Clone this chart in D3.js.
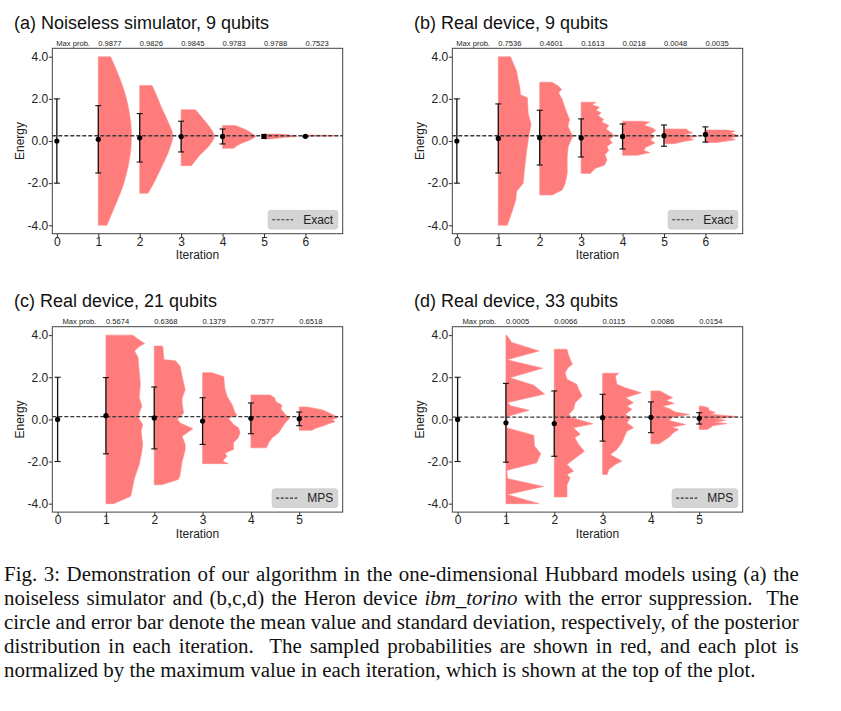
<!DOCTYPE html>
<html><head><meta charset="utf-8">
<script src="https://cdn.jsdelivr.net/npm/d3@7"></script>
<style>body{margin:0;background:#fff}svg{display:block}</style>
</head><body>
<svg id="fig" width="841" height="711"></svg>
<script>
// ---------------- data ----------------
const titleA = "(a) Noiseless simulator, 9 qubits";
const titleB = "(b) Real device, 9 qubits";
const titleC = "(c) Real device, 21 qubits";
const titleD = "(d) Real device, 33 qubits";

const iterationsA = [0,1,2,3,4,5,6];
const iterationsB = [0,1,2,3,4,5,6];
const iterationsC = [0,1,2,3,4,5];
const iterationsD = [0,1,2,3,4,5];

const maxProbA = ["0.9877","0.9826","0.9845","0.9783","0.9788","0.7523"];
const maxProbB = ["0.7536","0.4601","0.1613","0.0218","0.0048","0.0035"];
const maxProbC = ["0.5674","0.6368","0.1379","0.7577","0.6518"];
const maxProbD = ["0.0005","0.0066","0.0115","0.0086","0.0154"];

const meanA = [0, 0.08, 0.15, 0.21, 0.215, 0.215, 0.22];
const sdA   = [2, 1.60, 1.15, 0.73, 0.355, 0.085, 0.02];
const meanB = [0, 0.12, 0.16, 0.145, 0.215, 0.255, 0.31];
const sdB   = [2, 1.64, 1.30, 0.905, 0.595, 0.505, 0.36];
const meanC = [0, 0.175, 0.07, -0.08, 0.05, 0.025];
const sdC   = [2, 1.81, 1.47, 1.11, 0.73, 0.325];
const meanD = [0, -0.16, -0.2, 0.08, 0.1, 0.05];
const sdD   = [2, 1.87, 1.55, 1.11, 0.73, 0.27];

const refA = 0.25, refB = 0.25, refC = 0.13, refD = 0.11;
const legendA = "Exact", legendB = "Exact", legendC = "MPS", legendD = "MPS";

// sampled probability profiles: [energy, normalised probability], iterations 1..N
const violinA = [
  [[4.0,0.37],[3.24,0.58],[2.44,0.77],[1.65,0.90],[0.86,0.98],[0.25,1.0],[-0.41,0.98],[-1.2,0.9],[-2.0,0.77],[-2.8,0.58],[-3.43,0.41],[-4.0,0.26]],
  [[2.63,0.37],[2.2,0.5],[1.65,0.64],[0.86,0.87],[0.25,1.0],[-0.41,0.89],[-1.2,0.67],[-2.0,0.42],[-2.48,0.25]],
  [[1.48,0.43],[1.02,0.68],[0.62,0.88],[0.22,1.0],[-0.25,0.83],[-0.73,0.53],[-1.17,0.31]],
  [[0.73,0.38],[0.54,0.69],[0.35,0.89],[0.22,1.0],[0.06,0.84],[-0.13,0.54],[-0.35,0.33]],
  [[0.33,0.45],[0.28,0.8],[0.22,1.0],[0.16,0.55],[0.1,0.2]],
  [[0.28,0.3],[0.25,1.0],[0.22,0.3]]
];
const violinB = [
  [[4.0,0.37],[3.32,0.55],[2.92,0.6],[2.52,0.65],[2.2,0.67],[2.05,0.88],[1.33,0.9],[0.78,0.99],[0.22,0.92],[-0.41,0.86],[-1.21,0.8],[-2.0,0.75],[-2.4,0.55],[-2.79,0.53],[-3.43,0.4],[-4.0,0.27]],
  [[2.79,0.37],[2.6,0.57],[2.44,0.66],[2.29,0.57],[1.97,0.68],[1.49,0.78],[1.02,0.9],[0.7,0.85],[0.22,1.0],[-0.25,0.86],[-0.73,0.83],[-1.52,0.83],[-2.0,0.77],[-2.32,0.68],[-2.56,0.38]],
  [[1.84,0.45],[1.72,0.33],[1.6,0.55],[1.45,0.45],[1.35,0.6],[1.2,0.52],[1.02,0.68],[0.9,0.62],[0.74,0.84],[0.58,0.75],[0.42,0.88],[0.25,1.0],[0.08,0.85],[-0.08,0.94],[-0.25,0.78],[-0.45,0.83],[-0.65,0.72],[-0.9,0.78],[-1.15,0.7],[-1.3,0.42],[-1.54,0.28]],
  [[0.94,0.55],[0.9,0.82],[0.75,0.65],[0.62,0.9],[0.5,1.0],[0.35,0.86],[0.2,0.95],[0.05,0.84],[-0.1,0.98],[-0.3,0.7],[-0.45,0.64],[-0.55,0.82],[-0.68,0.45]],
  [[0.57,0.68],[0.46,0.75],[0.38,0.86],[0.3,0.6],[0.22,1.0],[0.14,0.75],[0.06,0.9],[-0.02,0.6],[-0.13,0.3]],
  [[0.52,0.65],[0.46,0.9],[0.38,0.75],[0.3,0.94],[0.22,1.0],[0.14,0.75],[0.06,0.9],[-0.07,0.35]]
];
const violinC = [
  [[4.0,0.70],[3.85,0.80],[3.6,1.0],[3.45,0.85],[3.25,0.74],[2.94,0.83],[2.3,0.86],[1.67,0.89],[1.03,0.86],[0.63,0.93],[0.32,0.86],[0.08,0.84],[-0.24,0.95],[-0.56,0.91],[-1.19,0.95],[-1.51,0.93],[-2.14,0.86],[-2.78,0.74],[-3.65,0.64],[-4.0,0.2]],
  [[3.48,0.22],[2.84,0.25],[2.78,0.55],[2.52,0.67],[2.05,0.72],[1.41,0.8],[1.0,0.72],[0.78,0.72],[0.3,0.76],[0.0,0.6],[-0.17,0.67],[-0.44,1.0],[-0.8,0.72],[-1.2,0.8],[-1.44,0.8],[-2.0,0.72],[-2.71,0.66],[-2.85,0.62],[-3.1,0.2]],
  [[2.22,0.25],[2.02,0.55],[1.51,0.57],[1.11,0.63],[0.71,0.76],[0.32,0.84],[0.2,0.89],[0.05,0.67],[-0.24,0.8],[-0.4,0.93],[-0.63,0.97],[-0.87,0.92],[-1.11,0.8],[-1.43,0.8],[-1.6,0.58],[-1.75,0.63],[-1.98,0.52],[-2.1,0.67]],
  [[1.16,0.5],[1.03,0.61],[0.84,0.65],[0.68,0.8],[0.48,0.78],[0.24,0.89],[0.05,1.0],[-0.16,0.89],[-0.4,0.8],[-0.63,0.72],[-0.87,0.55],[-1.11,0.46],[-1.35,0.4]],
  [[0.59,0.2],[0.52,0.41],[0.43,0.63],[0.32,0.76],[0.21,0.88],[0.08,1.0],[0.0,0.85],[-0.11,0.93],[-0.21,0.76],[-0.32,0.6],[-0.43,0.41],[-0.52,0.33]]
];
const violinD = [
  [[4.0,0.02],[3.65,0.15],[3.25,0.86],[2.83,0.03],[2.43,0.95],[1.98,0.1],[1.62,0.72],[1.2,1.0],[0.8,0.04],[0.65,0.12],[0.43,0.6],[0.14,0.03],[-0.4,0.02],[-0.75,0.72],[-1.27,0.74],[-1.62,0.9],[-2.06,0.8],[-2.42,0.02],[-2.81,0.04],[-3.18,0.97],[-3.57,0.03],[-4.0,0.86]],
  [[3.33,0.33],[3.1,0.36],[2.86,0.41],[2.62,0.47],[2.46,0.36],[2.22,0.28],[1.9,0.33],[1.67,0.58],[1.43,0.63],[1.11,0.72],[0.79,0.54],[0.48,0.5],[0.24,0.38],[0.08,0.46],[-0.21,1.0],[-0.4,0.5],[-0.71,0.67],[-0.87,0.53],[-1.19,0.63],[-1.51,0.78],[-1.83,0.55],[-2.14,0.33],[-2.46,0.5],[-2.62,0.33],[-2.78,0.41],[-3.1,0.33],[-3.68,0.33]],
  [[2.19,0.43],[2.06,0.33],[1.67,0.37],[1.51,0.57],[1.27,1.0],[1.03,0.6],[0.79,0.8],[0.63,0.63],[0.48,0.76],[0.24,0.59],[0.08,0.72],[-0.16,0.63],[-0.4,0.8],[-0.56,0.63],[-0.71,0.59],[-1.11,0.5],[-1.43,0.37],[-1.67,0.2],[-1.98,0.5],[-2.14,0.33],[-2.38,0.16],[-2.62,0.12]],
  [[1.35,0.24],[1.2,0.38],[1.03,0.56],[0.9,0.4],[0.75,0.6],[0.63,0.3],[0.5,0.48],[0.35,0.63],[0.23,1.0],[0.1,0.55],[-0.05,0.47],[-0.24,0.9],[-0.37,0.55],[-0.48,0.72],[-0.63,0.58],[-0.8,0.5],[-0.95,0.38],[-1.16,0.22]],
  [[0.63,0.08],[0.55,0.24],[0.43,0.25],[0.33,0.42],[0.25,0.3],[0.13,1.0],[0.03,0.45],[-0.05,0.68],[-0.13,0.4],[-0.2,0.72],[-0.3,0.35],[-0.38,0.3],[-0.48,0.2]]
];

const yTicks = [-4, -2, 0, 2, 4];
const maxProbLabel = "Max prob.";
const xLabel = "Iteration", yLabel = "Energy";

const captionLines = [
  [["Fig. 3: Demonstration of our algorithm in the one-dimensional Hubbard models using (a) the", false]],
  [["noiseless simulator and (b,c,d) the Heron device ", false], ["ibm_torino", true], [" with the error suppression.  The", false]],
  [["circle and error bar denote the mean value and standard deviation, respectively, of the posterior", false]],
  [["distribution in each iteration.  The sampled probabilities are shown in red, and each plot is", false]],
  [["normalized by the maximum value in each iteration, which is shown at the top of the plot.", false]]
];

// ---------------- build ----------------
const panels = [
  {title:titleA, it:iterationsA, mp:maxProbA, mean:meanA, sd:sdA, ref:refA, leg:legendA, vio:violinA, left:52.3, top:48.3, smooth:true},
  {title:titleB, it:iterationsB, mp:maxProbB, mean:meanB, sd:sdB, ref:refB, leg:legendB, vio:violinB, left:452.3, top:48.3, smooth:false},
  {title:titleC, it:iterationsC, mp:maxProbC, mean:meanC, sd:sdC, ref:refC, leg:legendC, vio:violinC, left:52.3, top:326.7, smooth:false},
  {title:titleD, it:iterationsD, mp:maxProbD, mean:meanD, sd:sdD, ref:refD, leg:legendD, vio:violinD, left:452.3, top:326.7, smooth:false}
];
const PW = 290.4, PH = 185.4;
const FONT = "'Liberation Sans', Arial, Helvetica, sans-serif";
const svg = d3.select("#fig");
svg.append("rect").attr("width",841).attr("height",711).attr("fill","#fff");

panels.forEach(p => {
  const N = p.it.length;
  const x = d3.scaleLinear().domain([-0.11, N - 0.1]).range([p.left, p.left + PW]);
  const y = d3.scaleLinear().domain([-4.4, 4.4]).range([p.top + PH, p.top]);
  const g = svg.append("g");

  // violins
  const area = d3.area()
    .y(d => y(d[0]))
    .curve(p.smooth ? d3.curveMonotoneY : d3.curveLinear);
  p.vio.forEach((prof, k) => {
    const it = p.it[k + 1];
    area.x0(() => x(it)).x1(d => x(it + 0.8 * d[1]));
    g.append("path").attr("d", area(prof))
      .attr("fill", "#ff7c7c").attr("stroke", "#ff8a8a").attr("stroke-width", 0.6);
  });

  // reference line
  g.append("line")
    .attr("x1", x.range()[0]).attr("x2", x.range()[1])
    .attr("y1", y(p.ref)).attr("y2", y(p.ref))
    .attr("stroke", "#3a3a3a").attr("stroke-width", 1.3).attr("stroke-dasharray", "4,2");

  // error bars
  p.it.forEach((it, i) => {
    const m = p.mean[i], s = p.sd[i];
    const cx = x(it);
    g.append("line").attr("x1", cx).attr("x2", cx).attr("y1", y(m + s)).attr("y2", y(m - s))
      .attr("stroke", "#111").attr("stroke-width", 1.3);
    [m + s, m - s].forEach(v => g.append("line").attr("x1", cx - 3).attr("x2", cx + 3)
      .attr("y1", y(v)).attr("y2", y(v)).attr("stroke", "#111").attr("stroke-width", 1.1));
    g.append("circle").attr("cx", cx).attr("cy", y(m)).attr("r", 2.6).attr("fill", "#000");
  });

  // frame
  g.append("rect").attr("x", p.left).attr("y", p.top).attr("width", PW).attr("height", PH)
    .attr("fill", "none").attr("stroke", "#444").attr("stroke-width", 1);

  // axes
  const ax = g.append("g").attr("transform", `translate(0,${p.top + PH})`)
    .call(d3.axisBottom(x).tickValues(p.it).tickFormat(d3.format("d")).tickSize(3.5).tickPadding(0).tickSizeOuter(0));
  const ay = g.append("g").attr("transform", `translate(${p.left},0)`)
    .call(d3.axisLeft(y).tickValues(yTicks).tickFormat(d => d.toFixed(1)).tickSize(3.5).tickPadding(0.5).tickSizeOuter(0));
  [ax, ay].forEach(a => {
    a.select(".domain").remove();
    a.attr("font-family", FONT).attr("font-size", 12);
    a.selectAll("line").attr("stroke", "#333");
    a.selectAll("text").attr("fill", "#222");
  });

  // max prob labels
  g.append("text").attr("x", x(0.8)).attr("y", p.top - 2.6).attr("text-anchor", "end")
    .attr("font-family", FONT).attr("font-size", 7.6).attr("fill", "#222").text(maxProbLabel);
  p.mp.forEach((v, k) => {
    g.append("text").attr("x", x(p.it[k + 1])).attr("y", p.top - 2.6)
      .attr("font-family", FONT).attr("font-size", 7.6).attr("fill", "#222").text(v);
  });

  // axis labels
  g.append("text").attr("x", p.left + PW / 2).attr("y", p.top + PH + 25.6).attr("text-anchor", "middle")
    .attr("font-family", FONT).attr("font-size", 12).attr("fill", "#222").text(xLabel);
  g.append("text").attr("transform", `translate(${p.left - 28.3},${p.top + PH / 2}) rotate(-90)`)
    .attr("text-anchor", "middle").attr("font-family", FONT).attr("font-size", 12).attr("fill", "#222").text(yLabel);

  // title
  g.append("text").attr("x", p.left - 38.3).attr("y", p.top - 19.4)
    .attr("font-family", FONT).attr("font-size", 18).attr("fill", "#111").text(p.title);

  // legend
  const lg = g.append("g");
  const lt = lg.append("text").attr("font-family", FONT).attr("font-size", 12).attr("fill", "#222").text(p.leg);
  const tw = lt.node().getComputedTextLength();
  const bw = 4 + 21 + 10 + tw + 4.5, bh = 18.7;
  const bx = p.left + PW - 5 - bw, by = p.top + PH - 4.6 - bh;
  lg.insert("rect", "text").attr("x", bx).attr("y", by).attr("width", bw).attr("height", bh)
    .attr("rx", 2.5).attr("fill", "#d4d4d4").attr("stroke", "#cacaca").attr("stroke-width", 0.8);
  lg.append("line").attr("x1", bx + 4).attr("x2", bx + 25).attr("y1", by + bh / 2).attr("y2", by + bh / 2)
    .attr("stroke", "#333").attr("stroke-width", 1.1).attr("stroke-dasharray", "3,1.6");
  lt.attr("x", bx + 35).attr("y", by + bh / 2 + 4.3);
});

// ---------------- caption ----------------
const CAP_FONT = "'Liberation Serif', 'Times New Roman', Times, serif";
const capG = svg.append("g");
const fs = 20;
const texts = captionLines.map((segs, li) => {
  const t = capG.append("text").attr("x", 0).attr("y", 0)
    .attr("font-family", CAP_FONT).attr("font-size", fs).attr("fill", "#111")
    .style("white-space", "pre");
  segs.forEach(([s, it]) => {
    const ts = t.append("tspan").text(s);
    if (it) ts.attr("font-style", "italic");
  });
  return t;
});
const lastLen = texts[4].node().getComputedTextLength();
const sx = 752 / lastLen;
texts.forEach((t, li) => {
  t.attr("transform", `translate(4,${580.7 + 24 * li}) scale(${sx},1)`);
  if (li === 4) return;
  const L = t.node().getComputedTextLength();
  const str = captionLines[li].map(s => s[0]).join("");
  const n = (str.match(/ /g) || []).length;
  t.style("word-spacing", ((794.7 / sx - L) / n) + "px");
});
</script>
</body></html>
